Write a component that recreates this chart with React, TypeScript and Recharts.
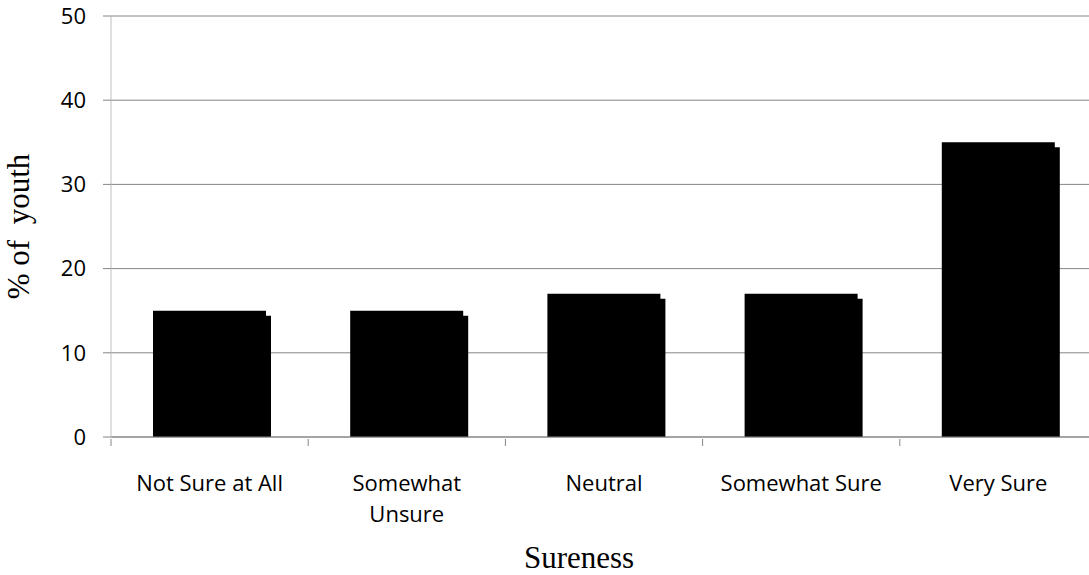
import React from "react";
import { BarChart, Bar, XAxis, YAxis, CartesianGrid, Label } from "recharts";

const categories = [
  "Not Sure at All",
  "Somewhat Unsure",
  "Neutral",
  "Somewhat Sure",
  "Very Sure",
];
// wrapped lines for the category labels under the axis
const tickLines: string[][] = [
  ["Not Sure at All"],
  ["Somewhat", "Unsure"],
  ["Neutral"],
  ["Somewhat Sure"],
  ["Very Sure"],
];
const youthPct = [15, 15, 17, 17, 35];
const yTicks = [0, 10, 20, 30, 40, 50];

const CHART_W = 1097;
const CHART_H = 575;
const Y_AXIS_W = 111;
const BAND = (CHART_W - Y_AXIS_W) / categories.length;
const TICK_FONT = "'Open Sans', 'Noto Sans', sans-serif";
const TITLE_FONT = "'Liberation Serif', 'Times New Roman', serif";

const data = categories.map((name, i) => ({ name, value: youthPct[i] }));

// bar with a small stepped shadow sticking out on its right edge
const ShadowBar = (props: any) => {
  const { x, y, width, height } = props;
  const step = 5;
  const r = x + width;
  const d = `M${x},${y + height} L${x},${y} L${r},${y} L${r},${y + step} L${r + step},${y + step} L${r + step},${y + height} Z`;
  return <path d={d} fill="#000" />;
};

const CategoryTick = (props: any) => {
  const { x, y, index } = props;
  const lines = tickLines[index] || [];
  const left = x - BAND / 2;
  return (
    <g>
      <line x1={left} y1={y} x2={left} y2={y + 7} stroke="#868686" />
      {index === categories.length - 1 && (
        <line x1={x + BAND / 2} y1={y} x2={x + BAND / 2} y2={y + 7} stroke="#868686" />
      )}
      {lines.map((t, i) => (
        <text
          key={i}
          x={x}
          y={y + 52 + i * 31}
          textAnchor="middle"
          fontFamily={TICK_FONT}
          fontSize={22}
          fill="#000"
        >
          {t}
        </text>
      ))}
    </g>
  );
};

const App = () => {
  return (
    <div
      style={{
        position: "absolute",
        left: 0,
        top: 0,
        width: 1089,
        height: CHART_H,
        overflow: "hidden",
        background: "#fff",
      }}
    >
      <BarChart
        width={CHART_W}
        height={CHART_H}
        data={data}
        margin={{ top: 16, right: 0, bottom: 0, left: 0 }}
        barCategoryGap="21.3%"
      >
        <CartesianGrid vertical={false} stroke="#868686" />
        <XAxis
          dataKey="name"
          height={138}
          tickSize={0}
          tickLine={false}
          axisLine={{ stroke: "#868686" }}
          tick={<CategoryTick />}
          interval={0}
        >
          <Label
            content={(p: any) => {
              const vb = p.viewBox;
              return (
                <text
                  x={579}
                  y={vb.y + 131}
                  textAnchor="middle"
                  fontFamily={TITLE_FONT}
                  fontSize={31}
                  fill="#000"
                >
                  Sureness
                </text>
              );
            }}
          />
        </XAxis>
        <YAxis
          width={Y_AXIS_W}
          domain={[0, 50]}
          ticks={yTicks}
          interval={0}
          tickSize={8}
          tickMargin={17}
          axisLine={{ stroke: "#bfbfbf" }}
          tickLine={{ stroke: "#868686" }}
          tick={{ fontFamily: TICK_FONT, fontSize: 22, fill: "#000" }}
        >
          <Label
            content={(p: any) => {
              const vb = p.viewBox;
              const cy = vb.y + vb.height / 2;
              return (
                <text
                  x={29}
                  y={cy}
                  transform={`rotate(-90 29 ${cy})`}
                  textAnchor="middle"
                  fontFamily={TITLE_FONT}
                  fontSize={31}
                  fill="#000"
                  style={{ whiteSpace: "pre" }}
                >
                  {"% of  youth"}
                </text>
              );
            }}
          />
        </YAxis>
        <Bar dataKey="value" shape={<ShadowBar />} isAnimationActive={false} />
      </BarChart>
    </div>
  );
};

export default App;
